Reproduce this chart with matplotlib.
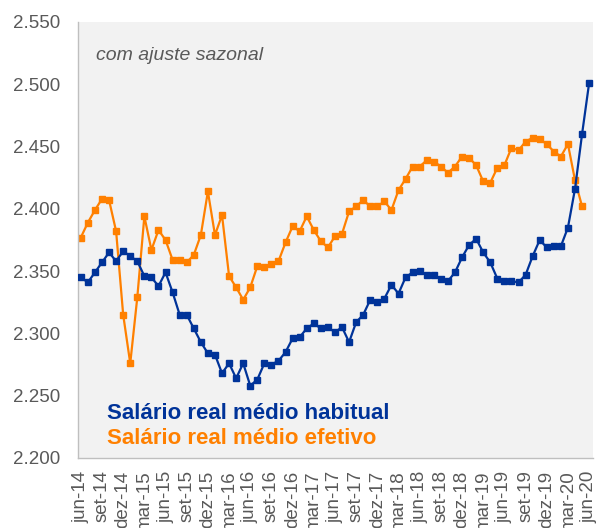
import matplotlib.pyplot as plt
from matplotlib.ticker import FuncFormatter

# salario real medio, com ajuste sazonal (jun-14 .. jun-20, mensal)
habitual = [2.345, 2.341, 2.349, 2.357, 2.365, 2.358, 2.366, 2.362, 2.358, 2.346,
            2.345, 2.338, 2.349, 2.333, 2.315, 2.315, 2.304, 2.293, 2.284, 2.283,
            2.268, 2.276, 2.264, 2.276, 2.258, 2.263, 2.276, 2.275, 2.278, 2.285,
            2.296, 2.297, 2.304, 2.308, 2.304, 2.305, 2.301, 2.305, 2.293, 2.309,
            2.315, 2.327, 2.325, 2.328, 2.339, 2.332, 2.345, 2.349, 2.350, 2.347,
            2.347, 2.344, 2.342, 2.349, 2.361, 2.371, 2.376, 2.365, 2.357, 2.344,
            2.342, 2.342, 2.341, 2.347, 2.362, 2.375, 2.369, 2.370, 2.370, 2.385,
            2.416, 2.460, 2.501]

# efetivo vai so ate mai-20
efetivo = [2.377, 2.389, 2.399, 2.408, 2.407, 2.382, 2.315, 2.276, 2.329, 2.394,
           2.367, 2.383, 2.375, 2.359, 2.359, 2.357, 2.363, 2.379, 2.414, 2.379,
           2.395, 2.346, 2.337, 2.327, 2.337, 2.354, 2.353, 2.356, 2.358, 2.373,
           2.386, 2.382, 2.394, 2.383, 2.374, 2.369, 2.378, 2.380, 2.398, 2.402,
           2.407, 2.402, 2.402, 2.406, 2.399, 2.415, 2.424, 2.434, 2.434, 2.439,
           2.438, 2.434, 2.429, 2.434, 2.442, 2.441, 2.435, 2.422, 2.421, 2.433,
           2.435, 2.449, 2.447, 2.454, 2.457, 2.456, 2.452, 2.446, 2.442, 2.452,
           2.423, 2.402]

tick_labels = ['jun-14', 'set-14', 'dez-14', 'mar-15', 'jun-15', 'set-15', 'dez-15',
               'mar-16', 'jun-16', 'set-16', 'dez-16', 'mar-17', 'jun-17', 'set-17',
               'dez-17', 'mar-18', 'jun-18', 'set-18', 'dez-18', 'mar-19', 'jun-19',
               'set-19', 'dez-19', 'mar-20', 'jun-20']

blue = '#003399'
orange = '#FF8000'
gray = '#595959'

plt.rcParams['font.family'] = ['Liberation Sans', 'DejaVu Sans']

fig = plt.figure(figsize=(6.02, 5.28), dpi=100)
ax = fig.add_axes([78 / 602, 1 - 458 / 528, 515 / 602, 436 / 528])
ax.set_facecolor('#F2F2F2')

ax.plot(range(len(habitual)), habitual, color=blue, lw=1.6,
        marker='s', ms=5, zorder=3)
ax.plot(range(len(efetivo)), efetivo, color=orange, lw=1.6,
        marker='s', ms=5, zorder=2)

ax.set_xlim(-0.4, 72.55)
ax.set_ylim(2.2, 2.55)
ax.set_yticks([2.2 + 0.05 * k for k in range(8)])
ax.yaxis.set_major_formatter(FuncFormatter(lambda v, p: '{:.3f}'.format(v)))
ax.set_xticks(range(0, 73, 3))
ax.set_xticklabels(tick_labels, rotation=90)

ax.tick_params(axis='y', length=0, pad=13, labelsize=13.5, labelcolor=gray)
ax.tick_params(axis='x', length=0, pad=9, labelsize=13.5, labelcolor=gray)

for s in ['top', 'right']:
    ax.spines[s].set_visible(False)
for s in ['left', 'bottom']:
    ax.spines[s].set_color('#BFBFBF')
    ax.spines[s].set_linewidth(1.0)

ax.text(0.035, 0.924, 'com ajuste sazonal', transform=ax.transAxes,
        fontsize=14, style='italic', color=gray, va='center')
ax.text(0.056, 0.101, 'Salário real médio habitual', transform=ax.transAxes,
        fontsize=16, weight='bold', color=blue, va='center')
ax.text(0.056, 0.044, 'Salário real médio efetivo', transform=ax.transAxes,
        fontsize=16, weight='bold', color=orange, va='center')

fig.savefig('out.png', dpi=100)
